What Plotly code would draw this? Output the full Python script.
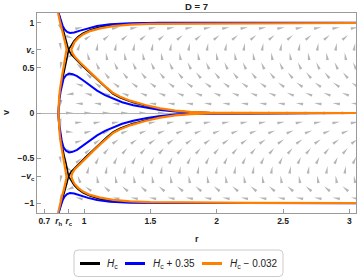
import math
import plotly.graph_objects as go

# ---------------- data ----------------
R_H = 0.808          # horizon radius (tick "r_h")
R_C = 0.885          # critical radius (tick "r_c")
V_C = 0.703          # critical velocity (tick "v_c")

X_TICKS = [0.7, R_H, R_C, 1, 1.5, 2, 2.5, 3]
X_TICKTEXT = ["0.7", "<i>r</i><sub>h</sub>", "<i>r</i><sub>c</sub>", "1", "1.5", "2", "2.5", "3"]
Y_TICKS = [-1, -V_C, -0.5, 0, 0.5, V_C, 1]
Y_TICKTEXT = ["\u22121", "\u2212<i>v</i><sub>c</sub>", "\u22120.5", "0", "0.5", "<i>v</i><sub>c</sub>", "1"]

# Upper half (v >= 0); lower half is its mirror image v -> -v
# H_c separatrix: left arms (top -> X -> horizon)
BLACK_A_R = [0.808, 0.811, 0.825, 0.840, 0.855, 0.870, 0.883, 0.875, 0.864, 0.849, 0.834, 0.821, 0.811, 0.808, 0.806]
BLACK_A_V = [1.11, 1.087, 1.014, 0.937, 0.859, 0.781, 0.703, 0.637, 0.559, 0.470, 0.370, 0.259, 0.148, 0.081, 0.0]
# H_c separatrix: right arms (v->1 at large r -> X -> v->0 at large r)
BLACK_B_R = [3.05, 1.875, 1.498, 1.347, 1.219, 1.121, 1.045, 0.992, 0.955, 0.925, 0.902, 0.883,
             0.902, 0.932, 0.970, 1.015, 1.068, 1.121, 1.174, 1.219, 1.272, 1.347, 1.468, 1.574,
             1.687, 1.800, 1.951, 3.05]
BLACK_B_V = [1.001, 1.0, 0.997, 0.990, 0.976, 0.953, 0.922, 0.887, 0.848, 0.803, 0.753, 0.703,
             0.653, 0.603, 0.548, 0.483, 0.411, 0.342, 0.264, 0.209, 0.170, 0.128, 0.079, 0.046,
             0.023, 0.010, 0.003, 0.0]

# H_c + 0.35 : upper branch and lower branch
BLUE_TOP_R = [0.808, 0.815, 0.825, 0.838, 0.853, 0.872, 0.894, 0.925, 0.970, 1.030, 1.098, 1.196, 1.347, 1.574, 1.875, 3.05]
BLUE_TOP_V = [1.11, 1.076, 1.026, 0.970, 0.928, 0.900, 0.889, 0.894, 0.914, 0.942, 0.966, 0.986, 0.997, 1.002, 1.003, 1.003]
BLUE_LOW_R = [0.806, 0.809, 0.814, 0.823, 0.832, 0.845, 0.864, 0.887, 0.913, 0.947, 0.992, 1.045, 1.098, 1.158,
              1.219, 1.287, 1.370, 1.475, 1.574, 1.687, 1.800, 1.951, 3.05]
BLUE_LOW_V = [0.0, 0.081, 0.148, 0.237, 0.314, 0.381, 0.420, 0.437, 0.431, 0.409, 0.364, 0.303, 0.248, 0.198,
              0.159, 0.120, 0.087, 0.056, 0.033, 0.017, 0.007, 0.001, 0.0]

# H_c - 0.032 : left branch (top -> horizon) and right branch
ORANGE_L_R = [0.804, 0.808, 0.820, 0.833, 0.848, 0.860, 0.866, 0.867, 0.864, 0.859, 0.849, 0.838, 0.826, 0.817, 0.811, 0.808, 0.806]
ORANGE_L_V = [1.11, 1.070, 1.003, 0.926, 0.848, 0.776, 0.726, 0.703, 0.670, 0.614, 0.537, 0.448, 0.348, 0.248, 0.148, 0.081, 0.0]
ORANGE_R_R = [3.05, 2.253, 1.875, 1.649, 1.498, 1.347, 1.219, 1.121, 1.045, 0.992, 0.955, 0.928, 0.912, 0.904,
              0.912, 0.932, 0.970, 1.015, 1.068, 1.121, 1.174, 1.219, 1.272, 1.347, 1.468, 1.574, 1.687,
              1.800, 1.951, 2.177, 3.05]
ORANGE_R_V = [0.999, 0.998, 0.997, 0.993, 0.990, 0.981, 0.964, 0.940, 0.909, 0.872, 0.831, 0.787, 0.742, 0.703,
              0.664, 0.620, 0.561, 0.496, 0.423, 0.348, 0.278, 0.222, 0.181, 0.137, 0.086, 0.051, 0.027,
              0.012, 0.004, 0.001, 0.0]

# Direction field (grey arrows): staggered grid, display angle in degrees (0 = +r, 90 = +v)
ROW_V = [0.0, 0.105, 0.21, 0.315, 0.42, 0.525, 0.63, 0.735, 0.84, 0.945]
COL_R_EVEN = [0.892, 1.0305, 1.169, 1.3075, 1.446, 1.5845, 1.723, 1.8615, 2.0, 2.1385, 2.277,
              2.4155, 2.554, 2.6925, 2.831, 2.9695]
COL_R_ODD = [0.823, 0.9615, 1.1, 1.2385, 1.377, 1.5155, 1.654, 1.7925, 1.931, 2.0695, 2.208,
             2.3465, 2.485, 2.6235, 2.762, 2.9005, 3.039]
ANG_FAR = [0, 170, 158, 145, 130, 115, 100, 80, 40, 10]
NEAR_ANG = {
    0.823: [270, 262, 262, 258, 258, 260, 265, 280, 288, 292],
    0.892: [0, 185, 185, 188, 192, 198, 210, 330, 340, 345],
    0.9615: [0, 174, 170, 163, 155, 140, 115, 70, 30, 15],
    1.0305: [0, 172, 164, 153, 140, 125, 105, 75, 35, 12],
}

# ---------------- layout geometry ----------------
W, H = 357, 278
ML, MR, MT, MB = 37, 1, 13, 65
X_RANGE = [0.645, 3.05]
Y_RANGE = [-1.11, 1.11]
PW, PH = W - ML - MR, H - MT - MB
SX = PW / (X_RANGE[1] - X_RANGE[0])
SY = PH / (Y_RANGE[1] - Y_RANGE[0])


def px_x(px):
    return (px - ML) / PW


def px_y(py):
    return (H - MB - py) / PH


def mirrored(rs, vs):
    return rs + [None] + rs[::-1], vs + [None] + [-v for v in vs[::-1]]


fig = go.Figure()

# arrows
ax, ay = [], []
L_ARR, W_ARR = 7.5, 2.8
for k in range(-len(ROW_V) + 1, len(ROW_V)):
    idx = abs(k)
    v0 = ROW_V[idx] if k >= 0 else -ROW_V[idx]
    cols = COL_R_EVEN if idx % 2 == 0 else COL_R_ODD
    for r0 in cols:
        if r0 < R_H:
            continue
        ang = NEAR_ANG[r0][idx] if r0 in NEAR_ANG else ANG_FAR[idx]
        if k < 0:
            ang = 180 - ang
        t = math.radians(ang)
        ux, uy = math.cos(t), math.sin(t)
        nx, ny = -uy, ux
        tip = (r0 + 0.5 * L_ARR * ux / SX, v0 + 0.5 * L_ARR * uy / SY)
        b1 = (r0 + (-0.5 * L_ARR * ux + 0.5 * W_ARR * nx) / SX, v0 + (-0.5 * L_ARR * uy + 0.5 * W_ARR * ny) / SY)
        b2 = (r0 + (-0.5 * L_ARR * ux - 0.5 * W_ARR * nx) / SX, v0 + (-0.5 * L_ARR * uy - 0.5 * W_ARR * ny) / SY)
        for p in (tip, b1, b2, tip):
            ax.append(p[0]); ay.append(p[1])
        ax.append(None); ay.append(None)

fig.add_trace(go.Scatter(x=ax, y=ay, mode="lines", fill="toself", fillcolor="#b5b5b5",
                         line=dict(width=0, color="#b5b5b5"), hoverinfo="skip", showlegend=False))

BLACK, BLUE, ORANGE = "#000000", "#0000ff", "#ff8000"


def add_curve(rs, vs, color, width):
    x, y = mirrored(rs, vs)
    fig.add_trace(go.Scatter(x=x, y=y, mode="lines", line=dict(color=color, width=width),
                             showlegend=False, hoverinfo="skip"))


add_curve(BLACK_A_R, BLACK_A_V, BLACK, 1.6)
add_curve(BLACK_B_R, BLACK_B_V, BLACK, 1.6)
add_curve(BLUE_TOP_R, BLUE_TOP_V, BLUE, 2)
add_curve(BLUE_LOW_R, BLUE_LOW_V, BLUE, 2)
add_curve(ORANGE_L_R, ORANGE_L_V, ORANGE, 2.2)
add_curve(ORANGE_R_R, ORANGE_R_V, ORANGE, 2.2)

FONT = "Liberation Sans"
TXT = "#222222"
FRAME = "#9a9a9a"
TICKFONT = dict(size=8.5, color=TXT, family=FONT, weight="bold")

fig.update_layout(
    width=W, height=H,
    margin=dict(l=ML, r=MR, t=MT, b=MB, autoexpand=False),
    paper_bgcolor="white", plot_bgcolor="white",
    font=dict(family=FONT, size=9, color=TXT),
    showlegend=False,
    xaxis=dict(range=X_RANGE, tickvals=X_TICKS, ticktext=X_TICKTEXT, ticks="inside", ticklen=4,
               tickcolor=FRAME, showgrid=False, zeroline=False, showline=True, mirror=True,
               linecolor=FRAME, linewidth=1, automargin=False, tickfont=TICKFONT),
    yaxis=dict(range=Y_RANGE, tickvals=Y_TICKS, ticktext=Y_TICKTEXT, ticks="inside", ticklen=4,
               tickcolor=FRAME, showgrid=False, zeroline=True, zerolinecolor="#b4b4b4", zerolinewidth=1,
               showline=True, mirror=True, linecolor=FRAME, linewidth=1, automargin=False,
               tickfont=TICKFONT),
)

ann = [
    dict(text="<b>D = 7</b>", x=0.5, y=px_y(6.5), xref="paper", yref="paper", showarrow=False,
         xanchor="center", yanchor="middle", font=dict(size=9.5, color=TXT)),
    dict(text="<b>r</b>", x=px_x(197), y=px_y(239), xref="paper", yref="paper", showarrow=False,
         xanchor="center", yanchor="middle", font=dict(size=9, color=TXT)),
    dict(text="<b>v</b>", x=px_x(6), y=px_y(113), xref="paper", yref="paper", showarrow=False,
         xanchor="center", yanchor="middle", textangle=-90, font=dict(size=9, color=TXT)),
]

# legend (box, swatches, labels)
LEG_ITEMS = [("<i>H</i><sub>c</sub>", BLACK, 80, 100, 105),
             ("<i>H</i><sub>c</sub> + 0.35", BLUE, 125, 145, 151),
             ("<i>H</i><sub>c</sub> \u2212 0.032", ORANGE, 202, 222, 228)]
shapes = []
bx0, bx1, by0, by1, rad = 74, 283, 250, 276.5, 4
x0, x1, y0, y1 = px_x(bx0), px_x(bx1), px_y(by0), px_y(by1)
rx, ry = rad / PW, rad / PH
path = (f"M{x0+rx},{y0} L{x1-rx},{y0} Q{x1},{y0} {x1},{y0-ry} L{x1},{y1+ry} Q{x1},{y1} {x1-rx},{y1} "
        f"L{x0+rx},{y1} Q{x0},{y1} {x0},{y1+ry} L{x0},{y0-ry} Q{x0},{y0} {x0+rx},{y0} Z")
shapes.append(dict(type="path", path=path, xref="paper", yref="paper",
                   line=dict(color="#cccccc", width=1), fillcolor="white"))
ly = px_y(263.5)
for label, col, lx0, lx1, tx in LEG_ITEMS:
    shapes.append(dict(type="line", xref="paper", yref="paper", x0=px_x(lx0), x1=px_x(lx1), y0=ly, y1=ly,
                       line=dict(color=col, width=3)))
    ann.append(dict(text=label, x=px_x(tx), y=ly, xref="paper", yref="paper", showarrow=False,
                    xanchor="left", yanchor="middle", font=dict(size=10, color=TXT)))

fig.update_layout(annotations=ann, shapes=shapes)
fig.write_html("out.html", config={"displayModeBar": False},
               post_script="document.body.style.margin='0px';document.body.style.padding='0px';")
